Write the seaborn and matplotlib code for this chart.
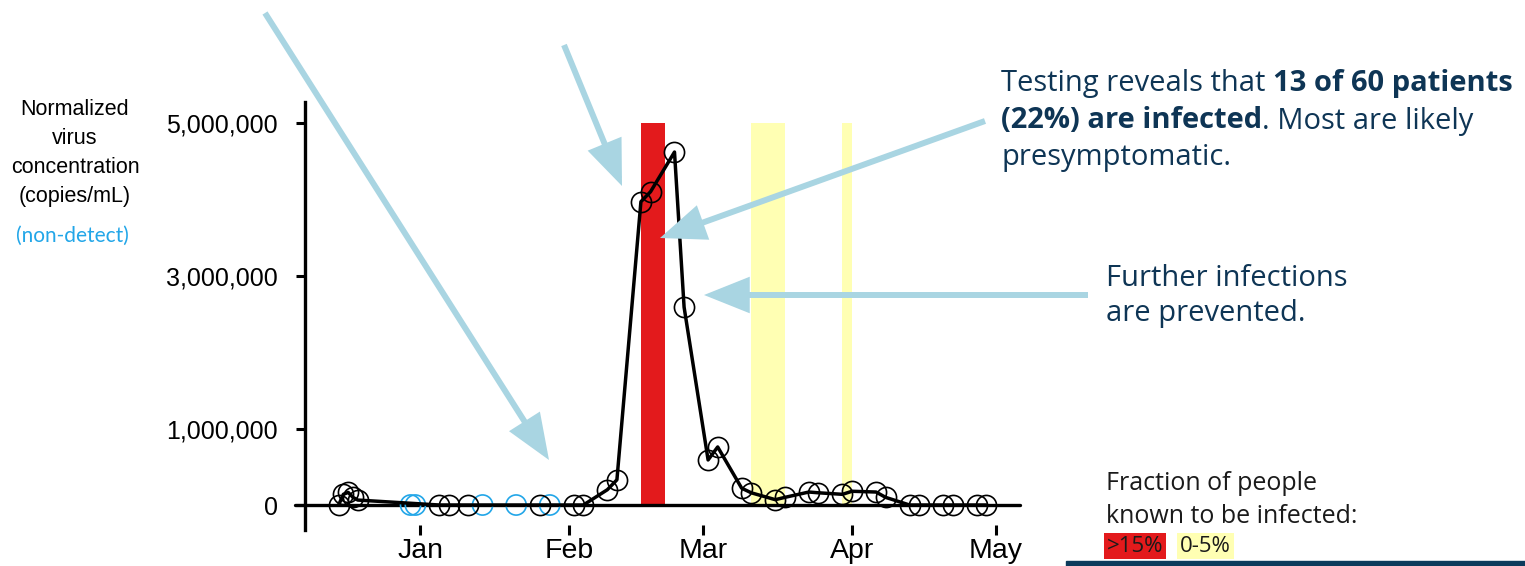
import numpy as np
import pandas as pd
import matplotlib
matplotlib.use("Agg")
import matplotlib.pyplot as plt
import matplotlib.dates as mdates
from matplotlib.patches import FancyArrowPatch, Rectangle
import seaborn as sns

# ---------------- data ----------------
detect_dates = ["2020-12-15", "2020-12-16", "2020-12-17", "2020-12-18", "2020-12-19",
                "2021-01-05", "2021-01-07", "2021-01-11", "2021-01-26", "2021-02-02",
                "2021-02-04", "2021-02-09", "2021-02-11", "2021-02-16", "2021-02-18",
                "2021-02-23", "2021-02-25", "2021-03-02", "2021-03-04", "2021-03-09",
                "2021-03-11", "2021-03-16", "2021-03-18", "2021-03-23", "2021-03-25",
                "2021-03-30", "2021-04-01", "2021-04-06", "2021-04-08", "2021-04-13",
                "2021-04-15", "2021-04-20", "2021-04-22", "2021-04-27", "2021-04-29"]
detect_values = [0, 140000, 165000, 100000, 65000,
                 0, 0, 0, 0, 0,
                 0, 200000, 330000, 3970000, 4100000,
                 4620000, 2590000, 590000, 760000, 220000,
                 160000, 70000, 100000, 170000, 160000,
                 140000, 180000, 170000, 100000, 0,
                 0, 0, 0, 0, 0]
nondetect_dates = ["2020-12-30", "2020-12-31", "2021-01-14", "2021-01-21", "2021-01-28"]
nondetect_values = [0, 0, 0, 0, 0]

band_starts = ["2021-02-16", "2021-03-11", "2021-03-30"]
band_ends = ["2021-02-21", "2021-03-18", "2021-04-01"]
band_labels = [">15%", "0-5%", "0-5%"]
band_top = 5000000

ytick_values = [0, 1000000, 3000000, 5000000]
ytick_labels = ["0", "1,000,000", "3,000,000", "5,000,000"]
xtick_dates = ["2021-01-01", "2021-02-01", "2021-03-01", "2021-04-01", "2021-05-01"]
xtick_labels = ["Jan", "Feb", "Mar", "Apr", "May"]

RED = "#e31a1c"
YELLOW = "#ffffb3"
BLUE = "#22a6e8"
NAVY = "#0e3555"
ARROW = "#a9d5e2"
band_colors = {">15%": RED, "0-5%": YELLOW}

# ---------------- figure ----------------
W, H = 1525, 566
sns.set_theme(style="white")
plt.rcParams["font.family"] = ["Liberation Sans", "DejaVu Sans"]

fig = plt.figure(figsize=(W / 100, H / 100), dpi=100)
ax = fig.add_axes([305 / W, 1 - 530 / H, (1020 - 305) / W, (530 - 102) / H])

df = pd.DataFrame({"date": pd.to_datetime(detect_dates), "value": detect_values})
nd = pd.DataFrame({"date": pd.to_datetime(nondetect_dates), "value": nondetect_values})

for s, e, lab in zip(band_starts, band_ends, band_labels):
    ax.fill_between(pd.to_datetime([s, e]), 0, band_top, color=band_colors[lab],
                    linewidth=0, zorder=1)

ax.axhline(0, xmin=-0.014, xmax=1, color="black", lw=2.4, clip_on=False, zorder=2)

sns.lineplot(data=df, x="date", y="value", ax=ax, color="black", lw=2.5,
             marker="o", markersize=14.5, markerfacecolor="none",
             markeredgecolor="black", markeredgewidth=1.2, zorder=4)
sns.scatterplot(data=nd, x="date", y="value", ax=ax, marker="o", s=14.5 ** 2,
                facecolors="none", edgecolors=BLUE, linewidths=1.2, zorder=3)

ax.set_xlim(pd.Timestamp("2020-12-08"), pd.Timestamp("2021-05-06"))
ax.set_ylim(-327000, 5275000)
ax.set_yticks(ytick_values)
ax.set_yticklabels(ytick_labels)
ax.set_xticks(pd.to_datetime(xtick_dates))
ax.set_xticklabels(xtick_labels)
ax.set_xlabel("")
ax.set_ylabel("")
for sp in ["top", "right", "bottom"]:
    ax.spines[sp].set_visible(False)
ax.spines["left"].set_linewidth(2.4)
ax.spines["left"].set_color("black")
ax.tick_params(axis="y", direction="out", length=6.5, width=2.2, colors="black",
               labelsize=18, pad=13, left=True)
ax.tick_params(axis="x", direction="inout", length=7, width=2.2, colors="black",
               labelsize=20.5, pad=2, bottom=True)
ax.grid(False)
ax.patch.set_alpha(0)

# ---------------- left labels ----------------
def fx(x):
    return x / W

def fy(y):
    return 1 - y / H

fig.text(fx(75), fy(153), "Normalized\nvirus\nconcentration\n(copies/mL)", ha="center",
         va="center", fontsize=15.5, linespacing=1.5, color="black")
fig.text(fx(72), fy(236), "(non-detect)", ha="center", va="center", fontsize=15,
         color=BLUE, family=["Lato", "DejaVu Sans"])

# ---------------- arrows ----------------
def arrow(x0, y0, x1, y1):
    a = FancyArrowPatch((fx(x0), fy(y0)), (fx(x1), fy(y1)), transform=fig.transFigure,
                        arrowstyle="-|>,head_length=25,head_width=10", mutation_scale=1,
                        color=ARROW, lw=4.3, joinstyle="miter", capstyle="butt",
                        shrinkA=0, shrinkB=0, zorder=10)
    fig.add_artist(a)

arrow(265, 13, 549, 460)
arrow(564, 45, 622, 186)
arrow(985, 121, 660, 238)
arrow(1088, 295, 704, 295)

# ---------------- rich text ----------------
renderer = fig.canvas.get_renderer()
ANN_FONT = ["Open Sans", "DejaVu Sans"]

def rich_line(x_px, y_px, segments, size, color):
    x = x_px
    for txt, weight in segments:
        t = fig.text(fx(x), fy(y_px), txt, ha="left", va="center", fontsize=size,
                     fontweight=weight, color=color, family=ANN_FONT)
        bb = t.get_window_extent(renderer=renderer)
        x = bb.x1

rich_line(1001, 84, [("Testing reveals that ", "normal"), ("13 of 60 patients", "bold")], 21, NAVY)
rich_line(1001, 121, [("(22%) are infected", "bold"), (". Most are likely", "normal")], 21, NAVY)
rich_line(1001, 158, [("presymptomatic.", "normal")], 21, NAVY)

fig.text(fx(1106), fy(296), "Further infections\nare prevented.", ha="left", va="center",
         fontsize=21, color=NAVY, family=ANN_FONT, linespacing=1.3)

fig.text(fx(1106), fy(500), "Fraction of people\nknown to be infected:", ha="left",
         va="center", fontsize=18, color="#1a1a1a", family=ANN_FONT, linespacing=1.4)
fig.text(fx(1107), fy(546), ">15%", ha="left", va="center", fontsize=16, color="#1a1a1a",
         family=ANN_FONT, bbox=dict(boxstyle="square,pad=0.12", fc=RED, ec="none"))
fig.text(fx(1180), fy(546), "0-5%", ha="left", va="center", fontsize=16, color="#1a1a1a",
         family=ANN_FONT, bbox=dict(boxstyle="square,pad=0.12", fc=YELLOW, ec="none"))

fig.add_artist(Rectangle((fx(1066), 0), (1525 - 1066) / W, 5 / H, transform=fig.transFigure,
                         color="#0c3b5c", zorder=5))

fig.savefig("out.png", dpi=100)
